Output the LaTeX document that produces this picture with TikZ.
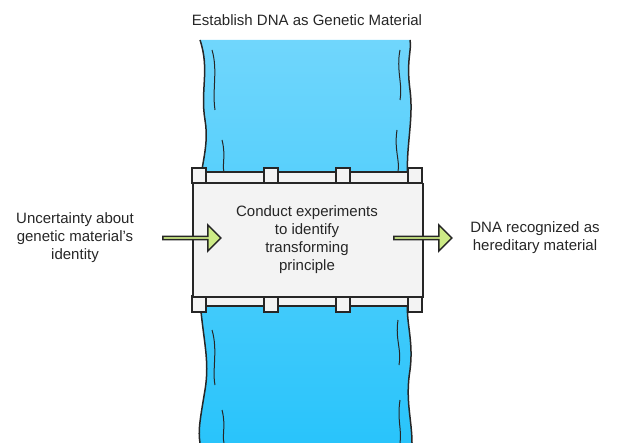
\documentclass[tikz,border=0pt]{standalone}
\usepackage{fontspec}
\setmainfont{Liberation Sans}
\usetikzlibrary{shapes.arrows}
\definecolor{riverTop}{HTML}{70D6FC}
\definecolor{riverBot}{HTML}{29C4FB}
\definecolor{arrowG}{HTML}{CDEB86}
\definecolor{boxG}{HTML}{F3F3F3}
\tikzset{
 lbl/.style={font=\fontsize{15}{18}\selectfont, text=black!85, align=center},
 plank/.style={draw=black!85, line width=1.5pt, fill=boxG},
 flowarrow/.style={single arrow, draw=black!85, line width=1.5pt, fill=arrowG, minimum height=58pt, minimum width=26pt, single arrow head extend=5pt, single arrow tip angle=90, inner sep=0pt}
}
\begin{document}
\begin{tikzpicture}[x=1pt,y=-1pt]
\useasboundingbox (0,0) rectangle (620,443);
% river
\shade[top color=riverTop, bottom color=riverBot]
 (200,40) .. controls (210,70) and (200,90) .. (205,120) .. controls (210,150) and (198,170) .. (200,200)
 -- (200,300) .. controls (203,340) and (210,360) .. (205,390) .. controls (200,420) and (198,430) .. (200,443)
 -- (412,443) .. controls (412,420) and (405,400) .. (410,370) .. controls (414,340) and (405,320) .. (408,300)
 -- (408,180) .. controls (405,150) and (414,120) .. (410,90) .. controls (406,60) and (412,50) .. (410,40) -- cycle;
\draw[black!85, line width=1.5pt] (200,40) .. controls (210,70) and (200,90) .. (205,120) .. controls (210,150) and (198,170) .. (200,200);
\draw[black!85, line width=1.5pt] (200,300) .. controls (203,340) and (210,360) .. (205,390) .. controls (200,420) and (198,430) .. (200,443);
\draw[black!85, line width=1.5pt] (410,40) .. controls (412,50) and (406,60) .. (410,90) .. controls (414,120) and (405,150) .. (408,180);
\draw[black!85, line width=1.5pt] (408,300) .. controls (405,320) and (414,340) .. (410,370) .. controls (405,400) and (412,420) .. (412,443);
\draw[black!85, line width=1pt] (212,50) .. controls (218,70) and (212,90) .. (215,110);
\draw[black!85, line width=1pt] (222,140) .. controls (226,155) and (222,165) .. (224,172);
\draw[black!85, line width=1pt] (212,330) .. controls (218,350) and (212,370) .. (215,385);
\draw[black!85, line width=1pt] (222,410) .. controls (226,425) and (222,435) .. (224,443);
\draw[black!85, line width=1pt] (400,50) .. controls (396,70) and (403,85) .. (400,100);
\draw[black!85, line width=1pt] (397,130) .. controls (394,150) and (400,160) .. (398,172);
\draw[black!85, line width=1pt] (398,320) .. controls (395,340) and (402,350) .. (399,365);
\draw[black!85, line width=1pt] (400,400) .. controls (397,420) and (402,430) .. (400,443);
% bridge rails and posts
\draw[plank] (192,172) rectangle (422,183);
\draw[plank] (192,296) rectangle (422,306);
\foreach \x in {192,264,336,408}{
 \draw[plank] (\x,168) rectangle (\x+14,183);
 \draw[plank] (\x,296) rectangle (\x+14,312);
}
\node[plank, minimum width=230pt, minimum height=113pt, anchor=north west, inner sep=0pt] (box) at (192,183) {};
\node[lbl] (boxtxt) at (307,240) {Conduct experiments\\to identify\\transforming\\principle};
% arrows
\node[flowarrow] (la) at (191,238) {};
\node[flowarrow] (ra) at (422,238) {};
% texts
\node[lbl] (title) at (307,20) {Establish DNA as Genetic Material};
\node[lbl] (left) at (75,238) {Uncertainty about\\genetic material's\\identity};
\node[lbl] (right) at (535,238) {DNA recognized as\\hereditary material};
\end{tikzpicture}
\end{document}
